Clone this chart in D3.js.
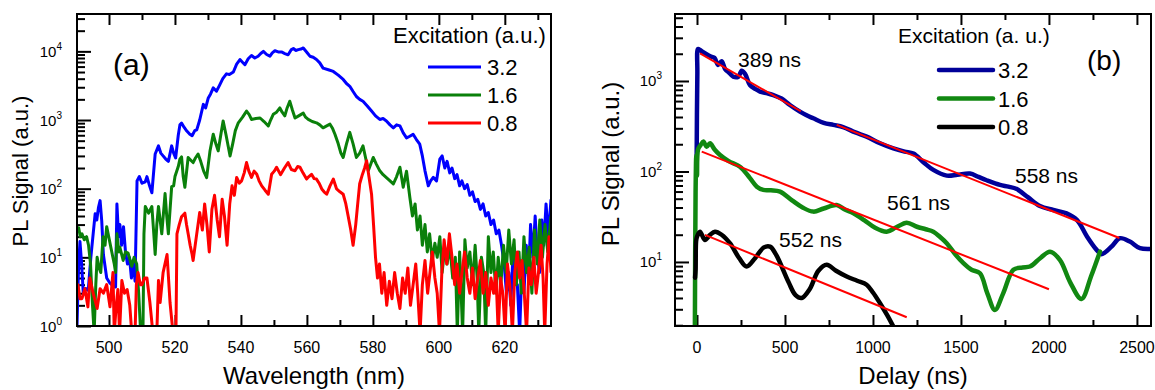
<!DOCTYPE html>
<html>
<head>
<meta charset="utf-8">
<script src="https://cdn.jsdelivr.net/npm/d3@7"></script>
<style>
body { margin: 0; background: #fff; }
svg text { font-family: 'Liberation Sans', Arial, sans-serif; fill: #000; }
</style>
</head>
<body>
<div id="chart"></div>
<script>
// ---- (a) PL spectra: [wavelength nm, signal a.u.] ----
const spec32 = [
	[490.3, 1], [490.8, 8], [491.2, 17], [491.7, 8], [492.2, 3], [493.0, 3.5], [493.7, 3.3], [494.5, 10],
	[495.2, 22], [495.8, 43], [496.3, 35], [496.8, 53], [497.3, 67], [497.8, 34], [498.3, 11], [499.3, 5],
	[500.3, 4.2], [501.3, 3.8], [502.0, 3.7], [502.4, 60], [502.9, 20], [503.3, 30], [503.8, 15], [504.4, 28],
	[505.0, 12], [505.6, 8], [506.2, 10], [506.8, 5], [507.4, 9], [507.9, 4.5], [508.5, 130], [509.2, 150],
	[510, 120], [511, 126], [511.5, 150], [512.3, 110], [513, 87], [514, 320], [515, 420], [515.7, 330],
	[516.4, 300], [517.2, 270], [518, 250], [519, 420], [519.6, 330], [520.2, 280], [521.0, 600], [521.5, 850],
	[522, 900], [522.8, 780], [523.6, 690], [524.5, 620], [525.2, 590], [526, 700], [526.6, 720], [527.5, 1000],
	[528.6, 1690], [529.3, 1500], [530.1, 2100], [530.8, 2400], [531.6, 2940], [532.6, 2630], [533.5, 3200],
	[534.5, 4000], [535.6, 4700], [536.5, 4600], [537.7, 5000], [538.7, 6500], [539.7, 7600], [540.4, 7000],
	[541.2, 6400], [542.2, 7800], [543.2, 8700], [544.2, 8000], [545.2, 8500], [546, 9300], [546.8, 10000],
	[547.8, 9000], [548.8, 8500], [549.5, 9500], [550.3, 10200], [551.3, 9800], [552.3, 9800], [553.3, 9300],
	[554.3, 8900], [555.2, 10500], [555.9, 11000], [556.6, 10300], [557.4, 10600], [558.2, 10800], [558.9, 11200],
	[559.9, 9800], [560.9, 8500], [561.9, 8200], [562.9, 7600], [563.9, 6800], [564.9, 5700], [566.5, 5400],
	[568, 5100], [569.5, 4500], [571, 3900], [572, 3400], [573, 3100], [574, 2600], [575, 2200], [576, 2000],
	[577, 1880], [578.3, 1600], [579.6, 1350], [580.8, 1150], [582.1, 1020], [583.1, 1050], [584.1, 970],
	[585.2, 850], [586.2, 770], [587.2, 850], [588.2, 820], [589.2, 650], [590.2, 550], [591.2, 580], [592.2, 620],
	[593.2, 520], [594.2, 445], [595.0, 300], [595.8, 182], [596.8, 110], [597.5, 130], [598.3, 146], [599.3, 130],
	[600.3, 270], [601, 300], [601.8, 200], [602.5, 250], [603.3, 170], [604, 200], [604.8, 140], [605.5, 160],
	[606.3, 110], [607, 130], [607.8, 100], [608.6, 115], [609.4, 80], [610.2, 90], [611, 65], [611.8, 70],
	[612.6, 50], [613.4, 60], [614.2, 40], [615, 45], [615.8, 30], [616.6, 35], [617.4, 22], [618.2, 25],
	[619, 15], [619.8, 8], [620.5, 3], [621.2, 6], [621.8, 2], [622.5, 12], [623.2, 4], [623.8, 4],
	[624.5, 0.8], [625.2, 8], [625.8, 3], [626.5, 15], [627.2, 5], [627.8, 30], [628.5, 10], [629.2, 40],
	[629.8, 12], [630.5, 6], [631.2, 35], [631.8, 15], [632.5, 60], [633.2, 20], [634, 70]
];
const spec16 = [
	[490.3, 25], [490.8, 27], [491.3, 20], [491.8, 22], [492.5, 18], [493.2, 20], [493.8, 15], [494.4, 8],
	[495, 2], [495.5, 0.8], [496, 4], [496.4, 10], [497, 7], [497.5, 6], [498.2, 20], [498.8, 15], [499.3, 28],
	[500.1, 18], [501, 11], [501.6, 8], [502, 6], [502.4, 22], [503, 12], [503.3, 14], [504.3, 9], [505, 12],
	[505.8, 11.5], [506.4, 9], [506.9, 7.4], [507.6, 10], [508.4, 8], [509, 3], [509.6, 0.8], [510.3, 0.8],
	[510.6, 22], [511, 55], [512, 44], [513, 55], [513.5, 25], [514, 11], [514.5, 30], [515, 55], [515.5, 35],
	[516, 22], [517, 85], [517.5, 40], [518, 22], [519, 107], [519.6, 110], [520, 150], [521, 210], [521.5, 270],
	[522, 290], [522.5, 150], [523, 105], [524, 285], [524.8, 260], [525.5, 240], [526.2, 280], [527, 320],
	[527.8, 250], [528.7, 180], [529.6, 145], [530.6, 350], [531.6, 620], [532.4, 450], [533.1, 355], [534, 650],
	[534.6, 970], [535.5, 600], [536.7, 300], [537.5, 450], [538.3, 700], [539.2, 910], [540.5, 1100],
	[541.7, 1350], [542.5, 1200], [543.2, 1020], [544.5, 1050], [545.8, 1070], [547, 950], [548.3, 820],
	[549, 1000], [549.8, 1210], [550.8, 1300], [551.8, 1500], [552.5, 1300], [553.3, 1150], [554, 1500],
	[554.8, 1880], [555.6, 1400], [556.4, 1070], [557.5, 1150], [558.9, 1260], [559.6, 1100], [560.4, 1020],
	[561.6, 950], [562.9, 910], [563.9, 850], [564.9, 770], [566, 820], [567, 870], [567.8, 750], [568.5, 620],
	[569.5, 450], [570.3, 330], [571, 285], [572, 450], [573, 660], [574, 450], [575, 285], [576, 330],
	[577, 420], [577.8, 280], [578.6, 182], [579.4, 230], [580.1, 285], [581, 230], [582.1, 182], [583.1, 160],
	[584.1, 145], [585.2, 130], [586.2, 117], [587.2, 150], [588.2, 205], [589.2, 105], [590.2, 180],
	[591.2, 75], [592, 40], [592.8, 60], [593.5, 25], [594.3, 40], [595, 15], [595.8, 30], [596.5, 12],
	[597.2, 22], [598, 9], [598.8, 16], [599.5, 10], [600.3, 20], [601, 6], [601.8, 14], [602.5, 8], [603.3, 15],
	[604.2, 5], [605, 10], [605.6, 0.8], [606.3, 12], [607.2, 0.8], [607.9, 18], [608.6, 7], [609.4, 12],
	[610.2, 4], [611, 15], [611.6, 5], [612.1, 0.8], [612.9, 10], [613.6, 6], [614.2, 0.8], [615, 20],
	[615.8, 6], [616.5, 12], [617.3, 3], [618, 10], [618.8, 4], [619.6, 15], [620.4, 6], [621.2, 25], [622, 8],
	[622.8, 18], [623.5, 4], [624.3, 12], [625, 3], [625.8, 20], [626.6, 6], [627.4, 14], [628.2, 3], [629, 25],
	[629.8, 8], [630.6, 35], [631.4, 10], [632.2, 30], [633, 12], [634, 40]
];
const spec08 = [
	[490.3, 3], [490.6, 4], [491.2, 2.5], [491.8, 2.5], [492.7, 3.5], [493.6, 1.9], [494.2, 5], [495.2, 3],
	[496.4, 1.8], [497.3, 3.5], [498.3, 3], [499.3, 4], [500.3, 1.9], [501.2, 6], [501.6, 0.8], [502.2, 2],
	[502.7, 3.4], [503.2, 0.8], [503.9, 4.6], [504.7, 3], [505.5, 3.4], [506.3, 2], [506.9, 0.8], [507.9, 0.8],
	[508.3, 4], [508.8, 6], [509.5, 4], [510, 4], [510.8, 5], [511.5, 5], [512.4, 2.2], [513.3, 0.8],
	[514.5, 0.8], [515, 4.6], [515.5, 2.2], [516.4, 6], [517.6, 11], [518.5, 2.2], [519.4, 0.8], [520.3, 0.8],
	[520.6, 22], [521.3, 30], [522, 39], [523, 44], [523.5, 30], [524, 22], [524.6, 15], [525.2, 11],
	[525.5, 9], [526.6, 22], [527.5, 45], [528.3, 25], [529, 60], [529.7, 30], [530.4, 12], [531.2, 50],
	[532, 80], [532.8, 35], [533.5, 20], [534.3, 70], [535, 40], [535.8, 15], [536.6, 60], [537.3, 110],
	[538, 80], [538.7, 146], [539.5, 120], [540.2, 130], [541, 170], [541.7, 240], [542.4, 180], [543.2, 146],
	[544, 180], [544.8, 162], [545.5, 130], [546.3, 110], [547.3, 95], [548.3, 83], [549.3, 162], [550.1, 180],
	[550.8, 205], [552, 160], [553.2, 200], [554.3, 240], [555.3, 190], [556.4, 182], [557.2, 210],
	[557.9, 205], [558.8, 170], [559.9, 138], [560.6, 150], [561.4, 162], [562.2, 140], [562.9, 138],
	[563.7, 120], [564.5, 99], [565.2, 90], [566, 83], [567, 110], [568, 138], [569, 99], [570, 90], [571, 83],
	[571.8, 60], [572.5, 40], [573.3, 25], [574, 15], [574.8, 30], [575.4, 60], [576, 118], [576.8, 160],
	[577.5, 200], [578.1, 255], [578.8, 150], [579.6, 83], [580.2, 30], [580.8, 10], [581.4, 5], [582, 8],
	[582.7, 3], [583.4, 6], [584.2, 2], [585, 4.5], [585.8, 2.5], [586.6, 6], [587.4, 3], [588.2, 1.8],
	[589, 5], [589.8, 3], [590.6, 7], [591.4, 2], [592.2, 4], [593, 8], [593.6, 3], [594.3, 0.8], [595, 4],
	[595.8, 9], [596.6, 3], [597.3, 6], [598, 12], [598.8, 5], [599.5, 3], [600.2, 0.8], [600.9, 6],
	[601.6, 18], [602.4, 8], [603.2, 22], [604, 10], [604.8, 4], [605.5, 8], [606.3, 3], [607, 6], [607.8, 12],
	[608.6, 5], [609.4, 3], [610.2, 7], [611, 2.5], [611.8, 5], [612.6, 9], [613.4, 3], [614.2, 6], [615, 2],
	[615.8, 5], [616.6, 3], [617.3, 6], [618, 0.8], [618.7, 5], [619.4, 3], [620.1, 0.8], [620.8, 8],
	[621.5, 4], [622.3, 0.8], [623, 6], [623.8, 12], [624.5, 5], [625.2, 9], [625.9, 3], [626.6, 0.8],
	[627.3, 7], [628, 4], [628.8, 10], [629.5, 3], [630.2, 6], [631, 15], [631.6, 5], [632.1, 0.8], [632.8, 8],
	[633.4, 20], [634, 6]
];

// ---- (b) PL decay: [delay ns, signal a.u.] ----
const decay32 = [
	[-2, 130], [2, 1200], [6, 2260], [17, 2200], [40, 2050], [60, 1950], [83, 1850], [100, 1800], [120, 1500],
	[140, 1650], [160, 1350], [180, 1250], [206, 1115], [235, 1115], [254, 1300], [273, 1200], [301, 903],
	[330, 820], [358, 763], [400, 730], [434, 700], [480, 640], [528, 543], [585, 458], [620, 420], [661, 387],
	[720, 345], [775, 327], [830, 310], [900, 270], [964, 243], [1040, 205], [1116, 180], [1180, 166],
	[1230, 158], [1290, 125], [1343, 104], [1419, 90], [1480, 92], [1551, 95], [1600, 87], [1646, 80],
	[1722, 71], [1770, 68], [1817, 64], [1880, 52], [1949, 41.5], [2025, 37.5], [2100, 34.4], [2160, 29],
	[2217, 19], [2271, 13.6], [2299, 12.2], [2356, 14.8], [2403, 18.3], [2460, 16.8], [2517, 14.2], [2578, 13.9]
];
const decay16 = [
	[-12, 1.9], [-8, 60], [-4, 150], [0, 90], [6, 175], [20, 195], [36, 214], [55, 188], [74, 205], [100, 175],
	[131, 152], [180, 130], [244, 113], [300, 85], [340, 68], [377, 62.5], [420, 62], [472, 60], [540, 48],
	[600, 40], [661, 36], [720, 39], [794, 42.6], [840, 38], [889, 34.5], [950, 29], [1010, 24], [1078, 21.6],
	[1130, 24], [1192, 27.2], [1250, 24.5], [1300, 23], [1343, 21.6], [1380, 19], [1419, 16.1], [1470, 12],
	[1514, 9.7], [1560, 8.2], [1608, 7.5], [1650, 4.5], [1693, 2.95], [1740, 4.5], [1798, 8.2], [1850, 8.7],
	[1892, 8.9], [1950, 11], [2006, 13], [2063, 10.5], [2120, 6], [2185, 3.9], [2240, 7], [2290, 13]
];
const decay08 = [
	[-11, 6.7], [-8, 8.2], [-5, 17], [0, 19], [17, 21.6], [45, 17.5], [75, 20], [102, 21.6], [140, 20],
	[188, 16], [240, 11], [282, 8.9], [330, 11], [380, 14.5], [415, 14.8], [450, 12], [520, 6], [560, 4.3],
	[595, 4], [640, 5], [690, 8], [737, 9.3], [790, 8], [851, 6.9], [910, 6.2], [964, 5.6], [1000, 4.6],
	[1040, 3.5], [1080, 2.6], [1116, 1.93]
];
// exponential fits, drawn as straight segments on the log axis
const fits = [
	[[17, 2020], [590, 463]],
	[[794, 327], [2400, 18.4]],
	[[27, 166], [2000, 5]],
	[[45, 19.9], [1192, 2.45]]
];
const fitNotes = [['389 ns', 233, 1430], ['558 ns', 1807, 75], ['561 ns', 1080, 37.5], ['552 ns', 466, 14.6]];

const legendLabels = ['3.2', '1.6', '0.8'];
const xTicksA = [500, 520, 540, 560, 580, 600, 620];
const xTicksB = [0, 500, 1000, 1500, 2000, 2500];
const yExpA = [0, 1, 2, 3, 4];
const yExpB = [1, 2, 3];

const colorsA = ['#0000ff', '#0a800a', '#ff0000'];
const colorsB = ['#000099', '#118811', '#000000'];

const svg = d3
	.select('#chart')
	.append('svg')
	.attr('width', 1155)
	.attr('height', 390);

const boxA = { left: 77, right: 551, top: 14, bottom: 326 };
const boxB = { left: 675, right: 1151, top: 14, bottom: 326 };

const xA = d3.scaleLinear().domain([490.3, 634]).range([boxA.left, boxA.right]);
const yA = d3.scaleLog().domain([1, 35000]).range([boxA.bottom, boxA.top]);
const xB = d3.scaleLinear().domain([-125, 2580]).range([boxB.left, boxB.right]);
const yB = d3.scaleLog().domain([1.96, 5500]).range([boxB.bottom, boxB.top]);

const minorLog = (scale) => {
	const [lo, hi] = scale.domain();
	const out = [];
	for (let e = Math.floor(Math.log10(lo)); e <= Math.ceil(Math.log10(hi)); e++) {
		for (let k = 2; k <= 9; k++) {
			const v = k * Math.pow(10, e);
			if (v >= lo && v <= hi) out.push(v);
		}
	}
	return out;
};

const drawFrame = (id, box, x, y, xMajor, xMinor, yExp, yLabelGap) => {
	const g = svg.append('g').attr('class', 'frame-' + id);
	const tickAxis = (axis, values, size, transform) => {
		const a = g
			.append('g')
			.attr('transform', transform)
			.call(axis.tickValues(values).tickSizeInner(-size).tickSizeOuter(0).tickFormat(''));
		a.select('.domain').remove();
		a.selectAll('line').attr('stroke', '#000').attr('stroke-width', 2);
	};
	tickAxis(d3.axisBottom(x), xMajor, 11, 'translate(0,' + box.bottom + ')');
	tickAxis(d3.axisBottom(x), xMinor, 6, 'translate(0,' + box.bottom + ')');
	tickAxis(d3.axisTop(x), xMajor, 11, 'translate(0,' + box.top + ')');
	tickAxis(d3.axisTop(x), xMinor, 6, 'translate(0,' + box.top + ')');
	tickAxis(d3.axisLeft(y), yExp.map(e => Math.pow(10, e)), 14, 'translate(' + box.left + ',0)');
	tickAxis(d3.axisLeft(y), minorLog(y), 8, 'translate(' + box.left + ',0)');

	g
		.append('rect')
		.attr('x', box.left)
		.attr('y', box.top)
		.attr('width', box.right - box.left)
		.attr('height', box.bottom - box.top)
		.attr('fill', 'none')
		.attr('stroke', '#000')
		.attr('stroke-width', 2);

	g
		.selectAll('.xlab')
		.data(xMajor)
		.enter()
		.append('text')
		.attr('class', 'xlab')
		.attr('x', d => x(d))
		.attr('y', 353)
		.attr('text-anchor', 'middle')
		.attr('font-size', 16)
		.text(d => d);

	const ylab = g
		.selectAll('.ylab')
		.data(yExp)
		.enter()
		.append('text')
		.attr('class', 'ylab')
		.attr('x', box.left - yLabelGap)
		.attr('y', d => y(Math.pow(10, d)) + 5.5)
		.attr('text-anchor', 'end')
		.attr('font-size', 15)
		.text('10');
	ylab
		.append('tspan')
		.attr('dy', -7)
		.attr('font-size', 10)
		.text(d => d);

	g
		.append('defs')
		.append('clipPath')
		.attr('id', 'clip-' + id)
		.append('rect')
		.attr('x', box.left + 1)
		.attr('y', box.top + 1)
		.attr('width', box.right - box.left - 2)
		.attr('height', box.bottom - box.top - 2);
	return svg.append('g').attr('clip-path', 'url(#clip-' + id + ')');
};

const range10 = (a, b, step) => d3.range(a, b + 0.001, step);

// ---------------- panel (a) ----------------
const plotA = drawFrame('a', boxA, xA, yA, xTicksA, range10(510, 630, 20), yExpA, 15);
const lineA = d3
	.line()
	.x(d => xA(d[0]))
	.y(d => yA(Math.max(d[1], 0.5)));
[spec32, spec16, spec08].forEach((s, i) => {
	plotA
		.append('path')
		.datum(s)
		.attr('d', lineA)
		.attr('fill', 'none')
		.attr('stroke', colorsA[i])
		.attr('stroke-width', 3)
		.attr('stroke-linejoin', 'round');
});

svg
	.append('text')
	.attr('x', (boxA.left + boxA.right) / 2)
	.attr('y', 384)
	.attr('text-anchor', 'middle')
	.attr('font-size', 24)
	.text('Wavelength (nm)');
svg
	.append('text')
	.attr('transform', 'translate(28,171) rotate(-90)')
	.attr('text-anchor', 'middle')
	.attr('font-size', 22)
	.text('PL Signal (a.u.)');
svg
	.append('text')
	.attr('x', 113)
	.attr('y', 75)
	.attr('font-size', 30)
	.text('(a)');

// legend (a)
svg
	.append('text')
	.attr('x', 393)
	.attr('y', 43)
	.attr('font-size', 22)
	.text('Excitation (a.u.)');
legendLabels.forEach((lab, i) => {
	const ly = 67 + i * 28;
	svg
		.append('line')
		.attr('x1', 428)
		.attr('x2', 481)
		.attr('y1', ly)
		.attr('y2', ly)
		.attr('stroke', colorsA[i])
		.attr('stroke-width', 3);
	svg
		.append('text')
		.attr('x', 487)
		.attr('y', ly + 8)
		.attr('font-size', 22)
		.text(lab);
});

// ---------------- panel (b) ----------------
const plotB = drawFrame('b', boxB, xB, yB, xTicksB, range10(250, 2250, 500), yExpB, 13);
const lineB = d3
	.line()
	.curve(d3.curveCatmullRom.alpha(0.5))
	.x(d => xB(d[0]))
	.y(d => yB(d[1]));
[decay32, decay16, decay08].forEach((s, i) => {
	plotB
		.append('path')
		.datum(s)
		.attr('d', lineB)
		.attr('fill', 'none')
		.attr('stroke', colorsB[i])
		.attr('stroke-width', 4.5)
		.attr('stroke-linejoin', 'round')
		.attr('stroke-linecap', 'round');
});
const fitLine = d3
	.line()
	.x(d => xB(d[0]))
	.y(d => yB(d[1]));
fits.forEach(f => {
	plotB
		.append('path')
		.datum(f)
		.attr('d', fitLine)
		.attr('fill', 'none')
		.attr('stroke', '#ff0000')
		.attr('stroke-width', 2);
});
svg
	.selectAll('.fit-note')
	.data(fitNotes)
	.enter()
	.append('text')
	.attr('class', 'fit-note')
	.attr('x', d => xB(d[1]))
	.attr('y', d => yB(d[2]))
	.attr('font-size', 21)
	.text(d => d[0]);

svg
	.append('text')
	.attr('x', (boxB.left + boxB.right) / 2)
	.attr('y', 384)
	.attr('text-anchor', 'middle')
	.attr('font-size', 24)
	.text('Delay (ns)');
svg
	.append('text')
	.attr('transform', 'translate(619,164) rotate(-90)')
	.attr('text-anchor', 'middle')
	.attr('font-size', 24)
	.text('PL Signal (a.u.)');
svg
	.append('text')
	.attr('x', 1087)
	.attr('y', 70)
	.attr('font-size', 28)
	.text('(b)');

// legend (b)
svg
	.append('text')
	.attr('x', 898)
	.attr('y', 43)
	.attr('font-size', 21)
	.text('Excitation (a. u.)');
legendLabels.forEach((lab, i) => {
	const ly = 70 + i * 28.5;
	svg
		.append('line')
		.attr('x1', 939)
		.attr('x2', 993)
		.attr('y1', ly)
		.attr('y2', ly)
		.attr('stroke', colorsB[i])
		.attr('stroke-width', 4.5)
		.attr('stroke-linecap', 'round');
	svg
		.append('text')
		.attr('x', 998)
		.attr('y', ly + 8)
		.attr('font-size', 22)
		.text(lab);
});
</script>
</body>
</html>
